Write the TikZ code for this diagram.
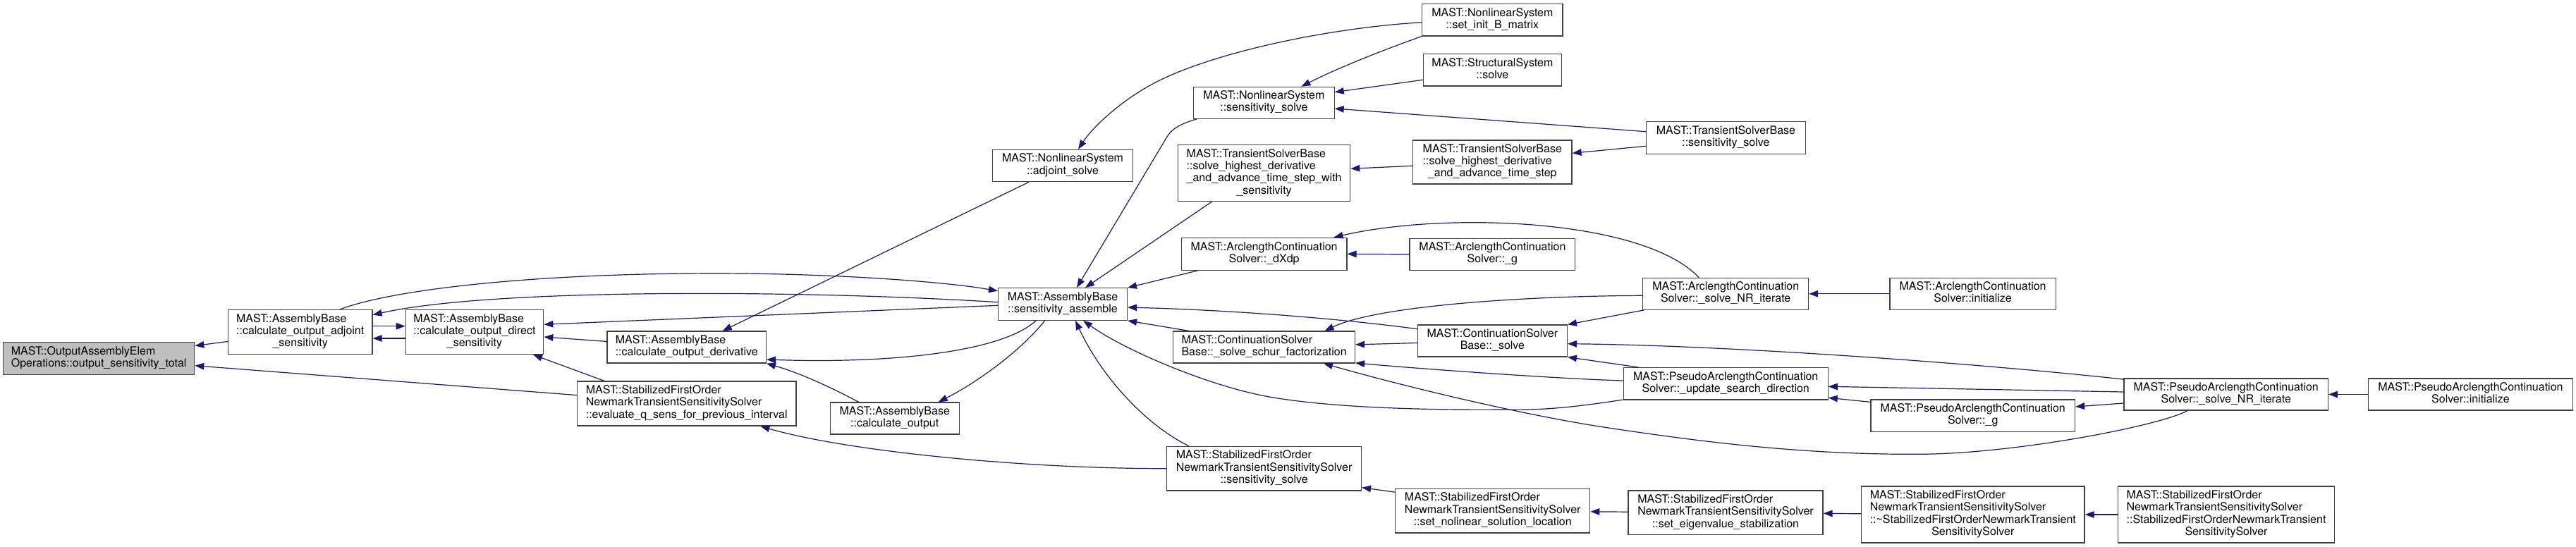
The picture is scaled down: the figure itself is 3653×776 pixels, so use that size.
\documentclass[tikz,border=0pt]{standalone}
\usepackage{fontspec}
\setmainfont{TeX Gyre Heros}
\usetikzlibrary{arrows.meta,calc}
\definecolor{edgeblue}{RGB}{25,25,112}
\definecolor{nodeborder}{RGB}{64,64,64}
\definecolor{mainfill}{RGB}{191,191,191}
\newcommand{\lab}[2]{\begin{tabular}{@{}l@{}}#1\\\multicolumn{1}{@{}c@{}}{#2}\end{tabular}}
\tikzset{
  nbox/.style={draw=nodeborder, line width=1.2pt, fill=white, inner sep=0pt,
    font=\fontsize{16}{17.3}\selectfont},
  mainbox/.style={nbox, fill=mainfill},
  conn/.style={draw=edgeblue, line width=1.2pt, -{Triangle[length=13pt,width=9.5pt]}},
}
\begin{document}
\begin{tikzpicture}[x=1pt,y=-1pt]
\fill[white] (0,0) rectangle (3653,776);
\useasboundingbox (0,0) rectangle (3653,776);

% nodes
\node[mainbox, minimum width=271pt, minimum height=46pt] (main) at (140.2,508.3)
  {\lab{MAST::OutputAssemblyElem}{Operations::output\_sensitivity\_total}};
\node[nbox, minimum width=204.5pt, minimum height=63.4pt] (adjoint) at (425.7,471)
  {\lab{MAST::AssemblyBase\\::calculate\_output\_adjoint}{\_sensitivity}};
\node[nbox, minimum width=195.5pt, minimum height=63.2pt] (direct) at (673,471)
  {\lab{MAST::AssemblyBase\\::calculate\_output\_direct}{\_sensitivity}};
\node[nbox, minimum width=225.4pt, minimum height=45pt] (derivative) at (973.7,492.5)
  {\lab{MAST::AssemblyBase}{::calculate\_output\_derivative}};
\node[nbox, minimum width=310.7pt, minimum height=63pt] (evalq) at (973.7,572.5)
  {\lab{MAST::StabilizedFirstOrder\\NewmarkTransientSensitivitySolver}{::evaluate\_q\_sens\_for\_previous\_interval}};
\node[nbox, minimum width=182.8pt, minimum height=45pt] (calcout) at (1268.7,593.5)
  {\lab{MAST::AssemblyBase}{::calculate\_output}};
\node[nbox, minimum width=183pt, minimum height=45.6pt] (sensasm) at (1507,431.5)
  {\lab{MAST::AssemblyBase}{::sensitivity\_assemble}};
\node[nbox, minimum width=199pt, minimum height=45.4pt] (adjsolve) at (1507,235)
  {\lab{MAST::NonlinearSystem}{::adjoint\_solve}};
\node[nbox, minimum width=199.4pt, minimum height=45pt] (nlsens) at (1792.4,145.8)
  {\lab{MAST::NonlinearSystem}{::sensitivity\_solve}};
\node[nbox, minimum width=244.2pt, minimum height=80pt] (tsbshs) at (1792.6,245.7)
  {\lab{MAST::TransientSolverBase\\::solve\_highest\_derivative\\\_and\_advance\_time\_step\_with}{\_sensitivity}};
\node[nbox, minimum width=234.6pt, minimum height=46pt] (dxdp) at (1792.6,360.3)
  {\lab{MAST::ArclengthContinuation}{Solver::\_dXdp}};
\node[nbox, minimum width=257.6pt, minimum height=45pt] (schur) at (1792.6,492.5)
  {\lab{MAST::ContinuationSolver}{Base::\_solve\_schur\_factorization}};
\node[nbox, minimum width=275.8pt, minimum height=62.7pt] (stabsens) at (1792.6,664.7)
  {\lab{MAST::StabilizedFirstOrder\\NewmarkTransientSensitivitySolver}{::sensitivity\_solve}};
\node[nbox, minimum width=199.3pt, minimum height=45.3pt] (setinitB) at (2116.4,28.3)
  {\lab{MAST::NonlinearSystem}{::set\_init\_B\_matrix}};
\node[nbox, minimum width=196pt, minimum height=45.3pt] (structsolve) at (2116.4,99.3)
  {\lab{MAST::StructuralSystem}{::solve}};
\node[nbox, minimum width=225.4pt, minimum height=62pt] (tsbsh) at (2116.3,230)
  {\lab{MAST::TransientSolverBase\\::solve\_highest\_derivative}{\_and\_advance\_time\_step}};
\node[nbox, minimum width=234.9pt, minimum height=45pt] (arcg) at (2116.4,360.8)
  {\lab{MAST::ArclengthContinuation}{Solver::\_g}};
\node[nbox, minimum width=211.9pt, minimum height=45pt] (contsolve) at (2116.4,483.5)
  {\lab{MAST::ContinuationSolver}{Base::\_solve}};
\node[nbox, minimum width=276pt, minimum height=62.7pt] (setnonlin) at (2116.7,724.7)
  {\lab{MAST::StabilizedFirstOrder\\NewmarkTransientSensitivitySolver}{::set\_nolinear\_solution\_location}};
\node[nbox, minimum width=225.5pt, minimum height=46pt] (tsbsens) at (2447.4,195.3)
  {\lab{MAST::TransientSolverBase}{::sensitivity\_solve}};
\node[nbox, minimum width=234.7pt, minimum height=45pt] (arcnr) at (2447.2,416.8)
  {\lab{MAST::ArclengthContinuation}{Solver::\_solve\_NR\_iterate}};
\node[nbox, minimum width=290pt, minimum height=45.3pt] (pseudoupd) at (2447.2,544.3)
  {\lab{MAST::PseudoArclengthContinuation}{Solver::\_update\_search\_direction}};
\node[nbox, minimum width=276pt, minimum height=62.7pt] (seteig) at (2447,727.3)
  {\lab{MAST::StabilizedFirstOrder\\NewmarkTransientSensitivitySolver}{::set\_eigenvalue\_stabilization}};
\node[nbox, minimum width=235.2pt, minimum height=45pt] (arcinit) at (2797.6,416.8)
  {\lab{MAST::ArclengthContinuation}{Solver::initialize}};
\node[nbox, minimum width=289.5pt, minimum height=45.7pt] (pseudog) at (2797.7,589.8)
  {\lab{MAST::PseudoArclengthContinuation}{Solver::\_g}};
\node[nbox, minimum width=316.4pt, minimum height=80pt] (destructor) at (2797.8,730)
  {\lab{MAST::StabilizedFirstOrder\\NewmarkTransientSensitivitySolver\\::\textasciitilde StabilizedFirstOrderNewmarkTransient}{SensitivitySolver}};
\node[nbox, minimum width=289.3pt, minimum height=45pt] (pseudonr) at (3156.7,559.5)
  {\lab{MAST::PseudoArclengthContinuation}{Solver::\_solve\_NR\_iterate}};
\node[nbox, minimum width=307.3pt, minimum height=80pt] (ctor) at (3157,730)
  {\lab{MAST::StabilizedFirstOrder\\NewmarkTransientSensitivitySolver\\::StabilizedFirstOrderNewmarkTransient}{SensitivitySolver}};
\node[nbox, minimum width=290.3pt, minimum height=45pt] (pseudoinit) at (3503.4,559.5)
  {\lab{MAST::PseudoArclengthContinuation}{Solver::initialize}};

% connectors (arrow at callee)
\draw[conn] (adjoint) -- (main);
\draw[conn] (evalq) -- (main);
\draw[conn] ($(adjoint.east)+(0,-8.3)$) -- ($(direct.west)+(0,-8.3)$);
\draw[conn] ($(direct.west)+(0,9)$) -- ($(adjoint.east)+(0,9)$);
\draw[conn] ($(adjoint.north)+(56.7,0)$) .. controls (560,410) and (750,390) .. (975,388)
   .. controls (1150,386) and (1330,398) .. ($(sensasm.west)+(0,-18.8)$);
\draw[conn] ($(sensasm.west)+(0,-2.8)$) .. controls (1150,412) and (700,408) .. ($(adjoint.east)+(0,-24.3)$);
\draw[conn] ($(sensasm.west)+(0,1.8)$) -- ($(direct.east)+(0,-10.7)$);
\draw[conn] (derivative) -- (direct);
\draw[conn] ($(evalq.north)+(-116.7,0)$) -- ($(direct.south)+(83,0)$);
\draw[conn] ($(adjsolve.south)+(-48,0)$) -- ($(derivative.north)+(51,0)$);
\draw[conn] ($(sensasm.south)+(-38,0)$) .. controls (1420,500) and (1260,516) .. ($(derivative.east)+(0,17.5)$);
\draw[conn] ($(calcout.north west)+(41,0)$) .. controls (1170,545) and (1130,528) .. (derivative.south east);
\draw[conn] ($(sensasm.south)+(-25.5,0)$) .. controls (1450,495) and (1390,540) .. ($(calcout.north)+(62,0)$);
\draw[conn] (stabsens.west) .. controls (1450,665) and (1200,640) .. ($(evalq.south)+(104.7,0)$);
\draw[conn] ($(stabsens.north west)+(31.7,0)$) .. controls (1620,600) and (1560,530) .. ($(sensasm.south)+(18,0)$);
\draw[conn] ($(nlsens.south west)+(5,0)$) .. controls (1665,178) and (1658,188) .. (1652,199) -- ($(sensasm.north)+(20,0)$);
\draw[conn] ($(tsbshs.south west)+(48.3,0)$) -- ($(sensasm.north)+(32,0)$);
\draw[conn] ($(dxdp.south west)+(23.7,0)$) -- (sensasm.north east);
\draw[conn] ($(contsolve.west)+(0,-16.8)$) .. controls (1900,452) and (1750,440) .. ($(sensasm.east)+(0,4.5)$);
\draw[conn] ($(schur.north west)+(22.6,0)$) -- (sensasm.south east);
\draw[conn] ($(pseudoupd.south west)+(0,-0.5)$) .. controls (2230,578) and (2190,582) .. (2132,581)
   .. controls (2000,582) and (1880,577) .. (1800,563)
   .. controls (1720,549) and (1600,500) .. ($(sensasm.south)+(29,0)$);
\draw[conn] ($(setinitB.west)+(0,3.4)$) .. controls (1880,40) and (1720,75) .. (1639,116.7)
   .. controls (1590,142) and (1550,180) .. ($(adjsolve.north)+(22,0)$);
\draw[conn] (setinitB.south west) .. controls (1950,75) and (1890,100) .. ($(nlsens.north)+(53,0)$);
\draw[conn] ($(structsolve.west)+(0,14)$) -- ($(nlsens.east)+(0,-15.1)$);
\draw[conn] ($(tsbsens.west)+(0,-8.6)$) -- ($(nlsens.east)+(0,8.2)$);
\draw[conn] ($(tsbsh.west)+(0,5.3)$) -- ($(tsbshs.east)+(0,-6.4)$);
\draw[conn] ($(tsbsens.west)+(0,12)$) -- ($(tsbsh.east)+(0,-12.7)$);
\draw[conn] (arcg.west) -- (dxdp.east);
\draw[conn] ($(arcnr.north)+(-38,0)$) .. controls (2330,310) and (2050,300) .. ($(dxdp.north east)+(-19,0)$);
\draw[conn] ($(arcnr.west)+(0,2.5)$) .. controls (2150,420) and (1950,435) .. ($(schur.north)+(86,0)$);
\draw[conn] (contsolve) -- (schur);
\draw[conn] ($(pseudoupd.west)+(0,-4.3)$) .. controls (2200,537) and (2000,522) .. ($(schur.south east)+(0,-0.7)$);
\draw[conn] ($(pseudonr.south west)+(90.7,0)$) .. controls (3060,605) and (2850,645) .. (2716,644.3)
   .. controls (2550,645) and (2400,625) .. (2274.5,606)
   .. controls (2150,587) and (1980,545) .. ($(schur.south)+(84.4,0)$);
\draw[conn] ($(arcnr.south west)+(2,0)$) -- (contsolve.north east);
\draw[conn] ($(pseudonr.north west)+(0,1.7)$) .. controls (2800,515) and (2450,490) .. ($(contsolve.east)+(0,4.2)$);
\draw[conn] ($(pseudoupd.north west)+(21.8,0)$) -- (contsolve.south east);
\draw[conn] (arcinit.west) -- (arcnr.east);
\draw[conn] ($(pseudonr.west)+(0,-3.5)$) -- ($(pseudoupd.east)+(0,4)$);
\draw[conn] ($(pseudog.north west)+(0,4)$) -- ($(pseudoupd.east)+(0,20)$);
\draw[conn] ($(pseudonr.west)+(0,12.5)$) -- ($(pseudog.east)+(0,-12.8)$);
\draw[conn] (pseudoinit.west) -- (pseudonr.east);
\draw[conn] ($(setnonlin.north west)+(0,5.4)$) -- ($(stabsens.south east)+(0,-5)$);
\draw[conn] (seteig) -- (setnonlin);
\draw[conn] (destructor) -- (seteig);
\draw[conn] (ctor) -- (destructor);
\end{tikzpicture}
\end{document}
